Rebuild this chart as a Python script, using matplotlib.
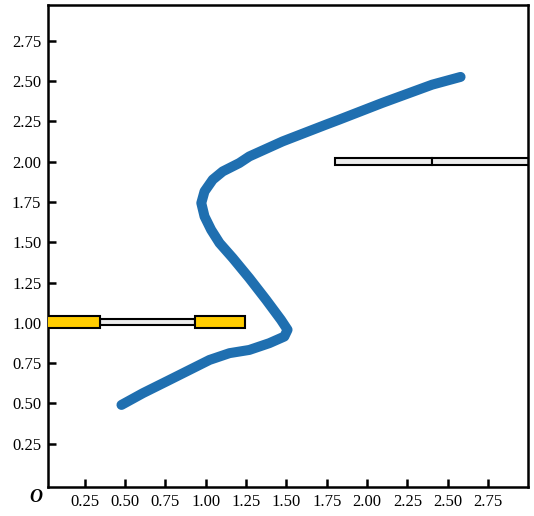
import matplotlib
matplotlib.use('Agg')
import matplotlib.pyplot as plt
from matplotlib.patches import Rectangle

# curve
curve_x = [0.477, 0.610, 0.755, 0.899, 1.023, 1.147, 1.270, 1.394, 1.487, 1.507,
           1.466, 1.374, 1.270, 1.167, 1.085, 1.033, 0.992, 0.972, 0.992, 1.043,
           1.105, 1.208, 1.270, 1.476, 1.745, 1.827, 2.095, 2.404, 2.580]
curve_y = [0.491, 0.564, 0.636, 0.708, 0.770, 0.812, 0.832, 0.874, 0.915, 0.957,
           1.019, 1.143, 1.277, 1.402, 1.495, 1.577, 1.660, 1.743, 1.815, 1.888,
           1.939, 1.991, 2.032, 2.125, 2.229, 2.260, 2.364, 2.477, 2.525]

# bars: (x start, x end, y centre, height)
yellow_bars = [(0.0, 0.343, 1.005, 0.074), (0.936, 1.246, 1.005, 0.074)]
white_bars = [(0.343, 0.936, 1.005, 0.035), (1.80, 2.40, 2.0, 0.04), (2.40, 3.05, 2.0, 0.04)]

tick_vals = [0.25, 0.50, 0.75, 1.00, 1.25, 1.50, 1.75, 2.00, 2.25, 2.50, 2.75]

plt.rcParams['font.family'] = ['Liberation Serif', 'DejaVu Serif']

fig = plt.figure(figsize=(5.34, 5.16), dpi=100)
ax = fig.add_axes([0.0904, 0.0562, 0.8989, 0.9338])

for x0, x1, yc, h in white_bars:
    ax.add_patch(Rectangle((x0, yc - h / 2), x1 - x0, h, facecolor='#ececec',
                           edgecolor='black', lw=1.5, zorder=2))
for x0, x1, yc, h in yellow_bars:
    ax.add_patch(Rectangle((x0, yc - h / 2), x1 - x0, h, facecolor='#ffcc00',
                           edgecolor='black', lw=1.5, zorder=3))

ax.plot(curve_x, curve_y, color='#1f6fb0', lw=7.2, solid_capstyle='round',
        solid_joinstyle='round', zorder=4)

ax.set_xlim(0.023, 3.0)
ax.set_ylim(-0.018, 2.97)
ax.set_xticks(tick_vals)
ax.set_yticks(tick_vals)
ax.set_xticklabels(['%.2f' % v for v in tick_vals])
ax.set_yticklabels(['%.2f' % v for v in tick_vals])
ax.tick_params(direction='in', length=6, width=1.8, labelsize=12, pad=5)
for s in ax.spines.values():
    s.set_linewidth(1.8)

ax.text(-0.026, -0.022, 'O', transform=ax.transAxes, fontsize=13,
        fontweight='bold', fontstyle='italic', ha='center', va='center')

fig.savefig('out.png', dpi=100)
